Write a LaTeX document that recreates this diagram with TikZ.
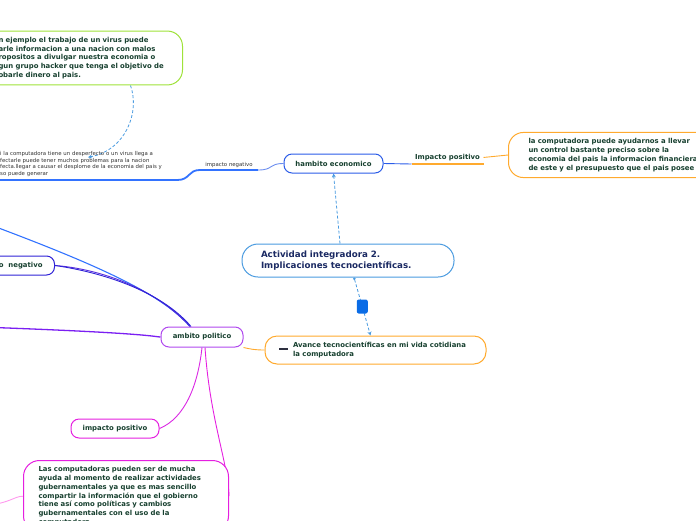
\documentclass[tikz,border=0pt]{standalone}
\usepackage{fontspec}
\setsansfont{DejaVu Sans}
\usepackage{xcolor}
\usetikzlibrary{arrows.meta,positioning,backgrounds}
\definecolor{inkgreen}{HTML}{17402F}
\definecolor{navy}{HTML}{1B2A63}
\definecolor{inkgray}{HTML}{333333}
\definecolor{leafgreen}{HTML}{9FE23A}
\definecolor{econblue}{HTML}{2B5CE8}
\definecolor{skyblue}{HTML}{4A9BE0}
\definecolor{amber}{HTML}{FFAA2E}
\definecolor{violet}{HTML}{B048EE}
\definecolor{magenta}{HTML}{E51FE0}
\definecolor{indigo}{HTML}{2F22D6}
\definecolor{lineblue}{HTML}{3373FF}
\definecolor{purpleline}{HTML}{7B1FF2}
\definecolor{pinkline}{HTML}{FF99EE}
\definecolor{iconblue}{HTML}{0A6CE6}
\definecolor{icondark}{HTML}{2E3040}

\begin{document}
\begin{tikzpicture}[
    x=1pt,y=-1pt,
    topic/.style  = {rectangle,rounded corners=8pt,draw,fill=white,line width=1pt,
                     font=\sffamily\bfseries\fontsize{6.9}{8.5}\selectfont,text=inkgreen,
                     minimum height=19pt,inner xsep=6pt},
    bubble/.style = {rectangle,rounded corners=15pt,draw,fill=white,line width=1pt,
                     align=left,font=\sffamily\bfseries\fontsize{6.9}{8.8}\selectfont,
                     text=inkgreen,inner ysep=6pt},
    leaf/.style   = {font=\sffamily\bfseries\fontsize{6.9}{8.5}\selectfont,text=inkgreen},
    smalltext/.style = {font=\sffamily\fontsize{5.4}{6.7}\selectfont,text=inkgray,align=left},
    br/.style     = {line width=0.9pt},
    ul/.style     = {line width=1.8pt},
    rel/.style    = {dash pattern=on 3pt off 2pt,skyblue,line width=0.8pt,
                     -{Stealth[length=4pt,width=4pt]}},
  ]

  \useasboundingbox (0,0) rectangle (696,520);

  % economic branch
  \node[bubble,draw=leafgreen,text width=172pt,inner xsep=12pt,anchor=east] (virus) at (183,58)
    {n ejemplo el trabajo de un virus puede\\arle informacion a una nacion con malos\\ropositos a divulgar nuestra economia o\\gun grupo hacker que tenga el objetivo de\\obarle dinero al pais.};
  \node[smalltext,text width=177pt,inner xsep=0pt,inner ysep=3pt,anchor=south west] (crisis) at (0,180)
    {i la computadora tiene un desperfecto o un virus llega a\\fectarle puede tener muchos problemas para la nacion\\fecta.llegar a causar el desplome de la economia del pais y\\so puede generar};
  \node[smalltext,minimum width=58pt,inner ysep=2pt,anchor=south] (impneg) at (229,170) {impacto negativo};
  \node[topic,draw=econblue,minimum width=99pt] (econ) at (333.5,163.5) {hambito economico};
  \node[leaf,minimum width=71pt,inner ysep=3pt,anchor=south] (imppos) at (447.5,164) {Impacto positivo};
  \node[bubble,draw=amber,text width=190pt,inner xsep=20pt,anchor=west] (budget) at (508,155)
    {la computadora puede ayudarnos a llevar\\un control bastante preciso sobre la\\economia del pais la informacion financiera\\de este y el presupuesto que el pais posee};

  % centre
  \node[topic,draw=skyblue,rounded corners=16pt,text=navy,align=left,
        font=\sffamily\bfseries\fontsize{8.7}{11}\selectfont,
        text width=174pt,inner xsep=19pt,minimum height=33pt] (hub) at (348,260.5)
    {Actividad integradora 2.\\Implicaciones tecnocientíficas.};
  \node[topic,draw=amber,rounded corners=12pt,minimum height=28pt,inner xsep=14pt] (avance) at (375.5,350)
    {\textcolor{icondark}{\rule[2pt]{9pt}{2pt}}\hspace{5pt}\parbox[c]{179pt}{\raggedright Avance tecnocientíficas en mi vida cotidiana\\la computadora}};

  % political branch
  \node[topic,draw=violet,minimum width=82pt,minimum height=20pt] (politico) at (202,337) {ambito politico};
  \node[topic,draw=indigo,inner xsep=12pt,anchor=east] (neg) at (55,265.5) {o\ \ negativo};
  \node[topic,draw=magenta,minimum width=88pt] (polpos) at (115,428.5) {impacto positivo};
  \node[bubble,draw=magenta,rounded corners=16pt,text width=175pt,inner xsep=15pt,anchor=north west] (gov) at (23,460)
    {Las computadoras pueden ser de mucha\\ayuda al momento de realizar actividades\\gubernamentales ya que es mas sencillo\\compartir la información que el gobierno\\tiene así como políticas y cambios\\gubernamentales con el uso de la\\computadora};

  \coordinate (offa) at (-20,221);
  \coordinate (offb) at (-20,327);
  \coordinate (offc) at (-20,506);

  \begin{scope}[on background layer]
    \draw[rel] ([xshift=46pt]virus.south) .. controls (140,112) and (126,150) .. ([xshift=88pt,yshift=-9pt]crisis.north west);
    \draw[ul,lineblue] (crisis.south west) -- (crisis.south east)
      .. controls (190,180) and (188,170) .. (impneg.south west) -- (impneg.south east);
    \draw[br,econblue!70] (impneg.south east) .. controls (274,170) and (268,163.5) .. (econ.west);
    \draw[br,econblue] (econ.east) -- (imppos.south west);
    \draw[line width=1.4pt,amber] (imppos.south west) -- (imppos.south east);
    \draw[br,amber] (imppos.east) -- (budget.west);

    \draw[rel] ([xshift=-8pt]hub.north) -- (econ.south);
    \draw[rel,{Circle[length=2.5pt]}-{Stealth[length=4pt,width=4pt]}] ([xshift=6pt]hub.south)
      -- node[fill=iconblue,rounded corners=2pt,minimum width=11pt,minimum height=14pt,inner sep=0pt] (memo) {}
      ([xshift=-5pt]avance.north);
    \draw[br,amber] (politico.south east) .. controls (250,349) and (255,350) .. (avance.west);

    \draw[line width=1.1pt,lineblue] (offa) .. controls (90,262) and (160,292) .. ([xshift=-12pt]politico.north);
    \draw[br,indigo!70!violet] (neg.east) .. controls (90,268) and (150,283) .. ([xshift=-12pt]politico.north);
    \draw[br,indigo] (neg.east) .. controls (100,272) and (160,290) .. ([xshift=-11pt]politico.north);
    \draw[line width=1.3pt,purpleline] (offb) .. controls (150,333) and (156,337) .. (politico.west);
    \draw[br,magenta!80!violet] (politico.south) .. controls (198,385) and (185,418) .. (polpos.east);
    \draw[br,magenta] ([xshift=3pt]politico.south) .. controls (210,420) and (228,462) .. (gov.east);
    \draw[br,pinkline] (offc) .. controls (10,504) and (14,496) .. (gov.west);
  \end{scope}

\end{tikzpicture}
\end{document}
